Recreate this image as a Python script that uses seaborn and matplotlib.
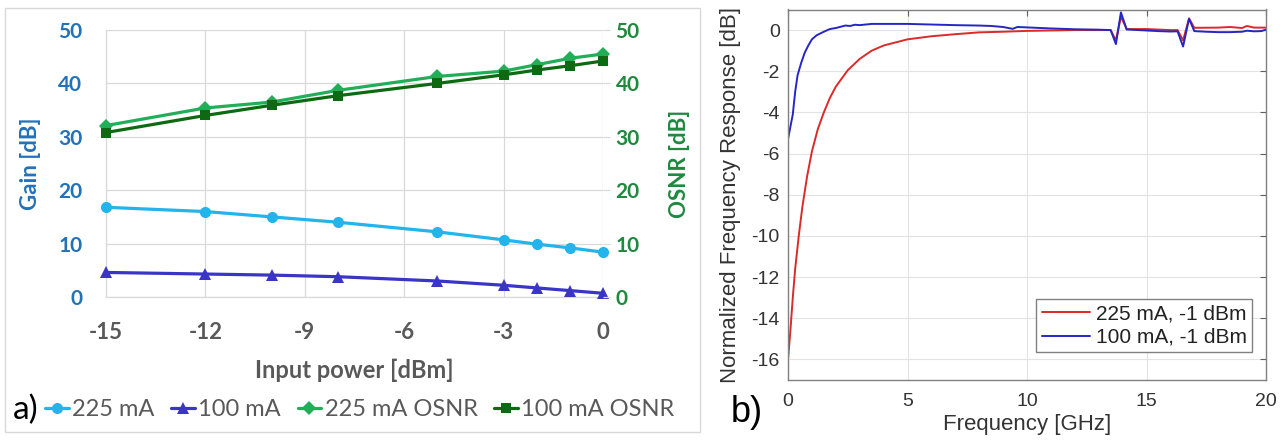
import numpy as np
import pandas as pd
import matplotlib
matplotlib.use("Agg")
import matplotlib.pyplot as plt
from matplotlib.patches import Rectangle
from matplotlib import font_manager
import seaborn as sns

# ---------------- Panel a data ----------------
input_power = [-15, -12, -10, -8, -5, -3, -2, -1, 0]
gain_225 = [16.8, 16.0, 15.0, 14.0, 12.2, 10.7, 9.9, 9.2, 8.4]
gain_100 = [4.6, 4.3, 4.1, 3.8, 3.0, 2.2, 1.7, 1.2, 0.7]
osnr_225 = [32.1, 35.4, 36.5, 38.7, 41.3, 42.3, 43.5, 44.7, 45.5]
osnr_100 = [30.8, 34.0, 35.9, 37.7, 40.0, 41.6, 42.5, 43.3, 44.2]
series_a = ["225 mA", "100 mA", "225 mA OSNR", "100 mA OSNR"]
x_ticks_a = [-15, -12, -9, -6, -3, 0]
y_ticks_a = [0, 10, 20, 30, 40, 50]

# ---------------- Panel b data ----------------
freq_225 = [0.0, 0.1, 0.2, 0.3, 0.45, 0.6, 0.8, 1.0, 1.25, 1.5, 1.75, 2.0, 2.5, 3.0,
            3.5, 4.0, 5.0, 6.0, 7.0, 8.0, 9.0, 10.0, 11.0, 12.0, 13.0, 13.5, 13.72,
            13.93, 14.17, 15.0, 16.0, 16.3, 16.53, 16.78, 17.0, 18.0, 18.5, 19.0,
            19.2, 19.5, 20.0]
resp_225 = [-16.0, -14.6, -13.0, -11.6, -10.0, -8.6, -7.1, -5.9, -4.8, -4.0, -3.3,
            -2.75, -1.95, -1.4, -1.0, -0.75, -0.45, -0.3, -0.2, -0.11, -0.08, -0.04,
            -0.02, 0.0, 0.0, 0.0, -0.5, 0.65, 0.05, 0.05, 0.0, 0.0, -0.5, 0.57, 0.11,
            0.12, 0.15, 0.1, 0.2, 0.12, 0.12]
freq_100 = [0.0, 0.1, 0.2, 0.3, 0.4, 0.55, 0.7, 0.85, 1.0, 1.2, 1.5, 1.75, 2.0, 2.4,
            2.6, 2.8, 3.0, 3.5, 4.0, 5.0, 6.0, 7.0, 8.0, 8.5, 9.0, 9.4, 9.6, 10.0,
            11.0, 12.0, 13.0, 13.5, 13.72, 13.93, 14.17, 15.0, 15.5, 16.0, 16.3,
            16.53, 16.78, 17.0, 17.5, 18.0, 18.5, 19.0, 19.2, 19.5, 19.8, 20.0]
resp_100 = [-5.3, -4.7, -4.1, -3.0, -2.2, -1.6, -1.1, -0.75, -0.45, -0.25, -0.08,
            0.05, 0.1, 0.22, 0.2, 0.26, 0.24, 0.3, 0.3, 0.3, 0.27, 0.24, 0.22, 0.2,
            0.15, 0.06, 0.15, 0.13, 0.08, 0.04, 0.02, 0.0, -0.68, 0.86, 0.03, -0.02,
            -0.05, -0.07, -0.06, -0.8, 0.55, -0.05, -0.08, -0.1, -0.1, -0.08, -0.03,
            -0.06, -0.05, 0.02]
series_b = ["225 mA, -1 dBm", "100 mA, -1 dBm"]
x_ticks_b = [0, 5, 10, 15, 20]
y_ticks_b = [0, -2, -4, -6, -8, -10, -12, -14, -16]

# ---------------- style ----------------
sns.set_style("white")
plt.rcParams["font.family"] = ["Lato", "DejaVu Sans"]
plt.rcParams["axes.unicode_minus"] = False

names = {f.name for f in font_manager.fontManager.ttflist}
font_b = "Liberation Sans Narrow" if "Liberation Sans Narrow" in names else "Liberation Sans"

W, H = 1288, 441
fig = plt.figure(figsize=(W / 100, H / 100), dpi=100)

def fx(px):
    return px / W

def fy(py):
    return 1 - py / H

# panel a frame
fig.patches.append(Rectangle((fx(5), fy(432)), fx(700) - fx(5), fy(8) - fy(432),
                             transform=fig.transFigure, fill=False,
                             edgecolor="#D9D9D9", linewidth=1.0))

c225 = "#22B4EA"
c100 = "#3A35C6"
c225o = "#22AE58"
c100o = "#0E6A12"
c_left = "#2272B8"
c_right = "#1E8A3E"
c_grey = "#595959"
grid_c = "#D9D9D9"

ax_l, ax_r, ax_t, ax_b = 106, 603, 30, 297
ax = fig.add_axes([fx(ax_l), fy(ax_b), fx(ax_r) - fx(ax_l), fy(ax_t) - fy(ax_b)])
ax2 = ax.twinx()

df_gain = pd.DataFrame({"x": input_power * 2,
                        "y": gain_225 + gain_100,
                        "s": [series_a[0]] * len(input_power) + [series_a[1]] * len(input_power)})
df_osnr = pd.DataFrame({"x": input_power * 2,
                        "y": osnr_225 + osnr_100,
                        "s": [series_a[2]] * len(input_power) + [series_a[3]] * len(input_power)})

lw_a = 2.3
sns.lineplot(data=df_gain, x="x", y="y", hue="s", style="s",
             palette={series_a[0]: c225, series_a[1]: c100},
             markers={series_a[0]: "o", series_a[1]: "^"}, dashes=False,
             markersize=8, markeredgewidth=0, linewidth=lw_a, ax=ax,
             legend=False, clip_on=False, zorder=3)
sns.lineplot(data=df_osnr, x="x", y="y", hue="s", style="s",
             palette={series_a[2]: c225o, series_a[3]: c100o},
             markers={series_a[2]: "D", series_a[3]: "s"}, dashes=False,
             markersize=7, markeredgewidth=0, linewidth=lw_a, ax=ax2,
             legend=False, clip_on=False, zorder=3)

for a in (ax, ax2):
    a.set_xlim(-15, 0)
    a.set_ylim(0, 50)
ax.set_xticks(x_ticks_a)
ax.set_xticklabels([str(v) for v in x_ticks_a])
ax.set_yticks(y_ticks_a)
ax.set_yticklabels([str(v) for v in y_ticks_a])
ax2.set_yticks(y_ticks_a)
ax2.set_yticklabels([str(v) for v in y_ticks_a])

ax.grid(True, color=grid_c, linewidth=0.9)
ax2.grid(False)
for s in ("top", "right"):
    ax.spines[s].set_visible(False)
for s in ("left", "bottom"):
    ax.spines[s].set_color(grid_c)
    ax.spines[s].set_linewidth(0.9)
for s in ax2.spines.values():
    s.set_visible(False)

ax.tick_params(axis="y", length=0, pad=17, labelsize=15, labelcolor=c_left)
ax.tick_params(axis="x", length=0, pad=18, labelsize=16, labelcolor=c_grey)
ax2.tick_params(axis="y", length=5, width=0.9, color=grid_c, direction="out", pad=4,
                labelsize=15, labelcolor=c_right)
for lab in ax.get_xticklabels() + ax.get_yticklabels() + ax2.get_yticklabels():
    lab.set_fontweight("bold")

ax.set_xlabel("Input power [dBm]", fontsize=17, fontweight="bold", color=c_grey)
ax.xaxis.set_label_coords(0.5, (ax_b - 359) / (ax_b - ax_t))
ax.set_ylabel("Gain [dB]", fontsize=16, fontweight="bold", color=c_left)
ax.yaxis.set_label_coords((41 - ax_l) / (ax_r - ax_l), 0.5)
ax2.set_ylabel("OSNR [dB]", fontsize=16, fontweight="bold", color=c_right)
ax2.yaxis.set_label_coords((669 - ax_l) / (ax_r - ax_l), 0.5)

handles = ax.get_lines()[:2] + ax2.get_lines()[:2]
leg = fig.legend(handles, series_a, loc="center", bbox_to_anchor=(fx(360), fy(410)),
                 ncol=4, frameon=False, fontsize=17, handlelength=1.0,
                 handletextpad=0.15, columnspacing=0.7, borderpad=0)
for t in leg.get_texts():
    t.set_color(c_grey)
fig.text(fx(26), fy(410), "a)", fontsize=24, ha="center", va="center", color="black")

# ---------------- Panel b ----------------
bl, br, bt, bb = 788, 1266, 9.5, 380
axb = fig.add_axes([fx(bl), fy(bb), fx(br) - fx(bl), fy(bt) - fy(bb)])
df_b = pd.DataFrame({"f": freq_225 + freq_100,
                     "r": resp_225 + resp_100,
                     "s": [series_b[0]] * len(freq_225) + [series_b[1]] * len(freq_100)})
sns.lineplot(data=df_b, x="f", y="r", hue="s",
             palette={series_b[0]: "#DA2A2A", series_b[1]: "#2626C4"},
             linewidth=1.4, ax=axb, sort=False)
axb.set_xlim(0, 20)
axb.set_ylim(-17, 1)
axb.set_xticks(x_ticks_b)
axb.set_xticklabels([str(v) for v in x_ticks_b])
axb.set_yticks(y_ticks_b)
axb.set_yticklabels([str(v) for v in y_ticks_b])
axb.grid(True, color="#E3E3E3", linewidth=0.8)
for s in axb.spines.values():
    s.set_color("#808080")
    s.set_linewidth(1.0)
axb.tick_params(axis="both", direction="in", length=4, width=0.8, color="#606060",
                top=True, right=True, labelsize=14, labelcolor="#333333")
axb.tick_params(axis="y", pad=6)
axb.tick_params(axis="x", pad=9)
for lab in axb.get_xticklabels() + axb.get_yticklabels():
    lab.set_fontfamily(font_b)
axb.set_xlabel("Frequency [GHz]", fontsize=16, color="#333333", fontfamily=font_b)
axb.xaxis.set_label_coords(0.5, (bb - 414) / (bb - bt))
axb.set_ylabel("Normalized Frequency Response [dB]", fontsize=16, color="#333333",
               fontfamily=font_b)
axb.yaxis.set_label_coords((741 - bl) / (br - bl), 0.5)
legb = axb.legend(loc="lower right", bbox_to_anchor=((1252 - bl) / (br - bl), (bb - 352) / (bb - bt)),
                  frameon=True, fancybox=False, framealpha=1, edgecolor="#808080",
                  prop={"family": font_b, "size": 15}, handlelength=2.3,
                  handletextpad=0.3, borderpad=0.25, labelspacing=0.2, borderaxespad=0)
legb.get_frame().set_linewidth(1.0)
for t in legb.get_texts():
    t.set_color("#222222")
fig.text(fx(747), fy(413), "b)", fontsize=26, ha="center", va="center",
         color="black", fontfamily=font_b)

fig.savefig("out.png", dpi=100)
